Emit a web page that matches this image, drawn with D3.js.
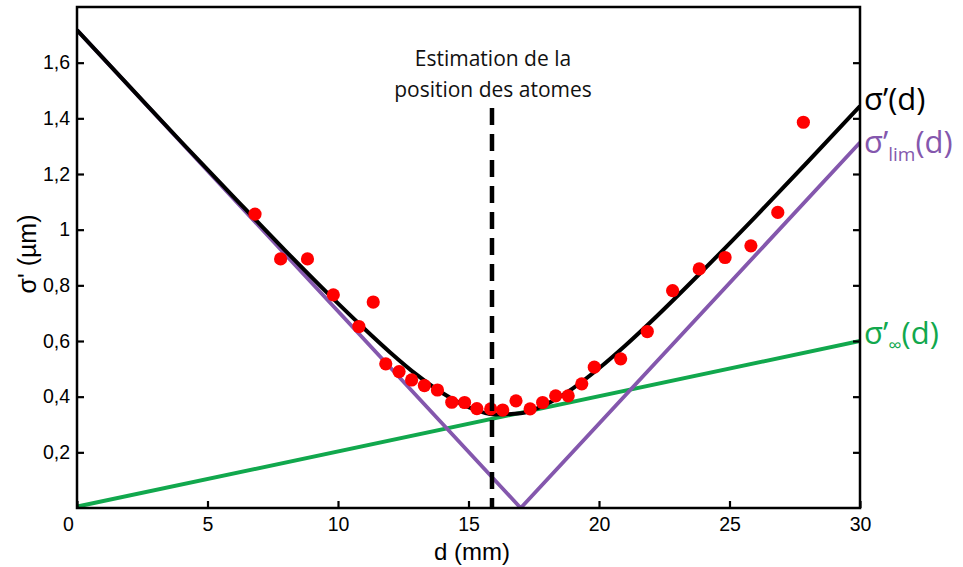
<!DOCTYPE html>
<html><head><meta charset="utf-8">
<script src="https://cdn.jsdelivr.net/npm/d3@7"></script>
<style>body{margin:0;background:#fff}svg{display:block}</style>
</head><body>
<script>
// Data
const xTicks = [0, 5, 10, 15, 20, 25, 30];
const yTicks = [0.2, 0.4, 0.6, 0.8, 1, 1.2, 1.4, 1.6];
const measD = [6.82,7.80,8.83,9.82,10.80,11.35,11.83,12.34,12.82,13.31,13.81,14.36,14.85,15.32,15.85,16.31,16.82,17.36,17.84,18.34,18.82,19.34,19.82,20.83,21.85,22.82,23.84,24.83,25.82,26.85,27.83];
const measSigma = [1.056,0.895,0.895,0.766,0.652,0.740,0.518,0.490,0.460,0.440,0.424,0.380,0.379,0.357,0.356,0.352,0.385,0.356,0.379,0.403,0.403,0.446,0.506,0.536,0.634,0.781,0.859,0.900,0.942,1.062,1.386];
const fitD = [0,2,4,6,8,10,11,12,13,14,15,16,17,18,19,20,21,22,24,26,28,30];
const fitSigma = [1.717,1.516,1.315,1.118,0.923,0.735,0.645,0.559,0.480,0.413,0.362,0.336,0.340,0.374,0.430,0.502,0.583,0.670,0.855,1.047,1.244,1.444];
const limD = [0, 17, 30];
const limSigma = [1.717, 0, 1.313];
const infD = [0, 30];
const infSigma = [0.005, 0.6];
const atomPos = 15.9;

const W = 963, H = 567;
const m = {left: 77, right: 103, top: 7, bottom: 59};
const svg = d3.select("body").append("svg").attr("width", W).attr("height", H);
const x = d3.scaleLinear().domain([0, 30]).range([m.left, W - m.right]);
const y = d3.scaleLinear().domain([0, 1.8]).range([H - m.bottom, m.top]);

svg.append("clipPath").attr("id","c").append("rect")
  .attr("x", m.left).attr("y", m.top).attr("width", W-m.left-m.right).attr("height", H-m.top-m.bottom);
const g = svg.append("g").attr("clip-path","url(#c)");

const line = d3.line().x(d => x(d[0])).y(d => y(d[1]));
const smooth = d3.line().x(d => x(d[0])).y(d => y(d[1])).curve(d3.curveMonotoneX);

g.append("path").datum(d3.zip(infD, infSigma)).attr("d", line)
  .attr("fill","none").attr("stroke","#11a84d").attr("stroke-width",4);
g.append("path").datum(d3.zip(limD, limSigma)).attr("d", line)
  .attr("fill","none").attr("stroke","#8457ad").attr("stroke-width",3.8);
g.append("path").datum(d3.zip(fitD, fitSigma)).attr("d", smooth)
  .attr("fill","none").attr("stroke","#000").attr("stroke-width",4);

// dashed vertical line
svg.append("line").attr("x1", x(atomPos)).attr("x2", x(atomPos))
  .attr("y1", 108).attr("y2", y(0))
  .attr("stroke","#000").attr("stroke-width",4.5).attr("stroke-dasharray","17,9");

// measured points
g.selectAll("circle.p").data(d3.zip(measD, measSigma)).join("circle")
  .attr("cx", d => x(d[0])).attr("cy", d => y(d[1])).attr("r", 6.6).attr("fill","#ff0000");

// frame
svg.append("rect").attr("x", m.left).attr("y", m.top).attr("width", W-m.left-m.right).attr("height", H-m.top-m.bottom)
  .attr("fill","none").attr("stroke","#000").attr("stroke-width",2.5);

// axes with inward ticks
const ax = svg.append("g").attr("transform",`translate(0,${y(0)})`)
  .call(d3.axisBottom(x).tickValues(xTicks).tickSize(-7).tickPadding(9).tickFormat(d3.format("d")));
const ayL = svg.append("g").attr("transform",`translate(${m.left},0)`)
  .call(d3.axisLeft(y).tickValues(yTicks).tickSize(-7).tickPadding(7).tickFormat(d => String(d).replace(".", ",")));
const ayR = svg.append("g").attr("transform",`translate(${W-m.right},0)`)
  .call(d3.axisRight(y).tickValues(yTicks).tickSize(-7).tickFormat(""));
[ax, ayL, ayR].forEach(a => {
  a.select(".domain").remove();
  a.selectAll(".tick line").attr("stroke","#000").attr("stroke-width",2.2);
  a.selectAll("text").attr("font-family","Liberation Sans, Arial, sans-serif").attr("font-size",19.5).attr("fill","#000");
});
ax.selectAll(".tick text").filter(d => d === 0).attr("dx", -9);

// axis titles
svg.append("text").attr("x", 472).attr("y", 560).attr("text-anchor","middle")
  .attr("font-family","Liberation Sans, Arial, sans-serif").attr("font-size",24).text("d (mm)");
svg.append("text").attr("transform","translate(36,254) rotate(-90)").attr("text-anchor","middle")
  .attr("font-family","Liberation Sans, Arial, sans-serif").attr("font-size",25).text("σ' (µm)");

// annotation
const ann = svg.append("text").attr("text-anchor","middle").attr("font-family","Open Sans, sans-serif")
  .attr("font-size",21).attr("font-weight",500).attr("fill","#111");
ann.append("tspan").attr("x", 493).attr("y", 66).text("Estimation de la");
ann.append("tspan").attr("x", 493).attr("y", 97).text("position des atomes");

// curve labels
const lf = "Open Sans, sans-serif";
svg.append("text").attr("x", 864).attr("y", 110).attr("font-family", lf).attr("font-size", 31).attr("fill","#000").text("σ’(d)");
const t2 = svg.append("text").attr("x", 864).attr("y", 153).attr("font-family", lf).attr("font-size", 31).attr("fill","#8457ad");
t2.append("tspan").text("σ’");
t2.append("tspan").attr("dy", 8).attr("font-size", 19).text("lim");
t2.append("tspan").attr("dy", -8).text("(d)");
const t3 = svg.append("text").attr("x", 864).attr("y", 344).attr("font-family", lf).attr("font-size", 31).attr("fill","#11a84d");
t3.append("tspan").text("σ’");
t3.append("tspan").attr("dy", 8).attr("font-size", 19).text("∞");
t3.append("tspan").attr("dy", -8).text("(d)");
</script>
</body></html>
